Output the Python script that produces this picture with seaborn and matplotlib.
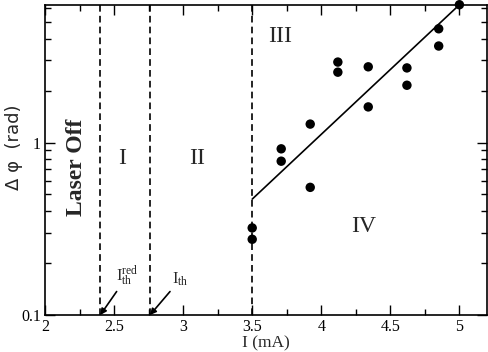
import numpy as np
import pandas as pd
import matplotlib
matplotlib.use("Agg")
import matplotlib.pyplot as plt
import seaborn as sns
from matplotlib.ticker import FixedLocator, LogLocator, NullFormatter, MultipleLocator

# Data
current_mA = [3.50, 3.50, 3.71, 3.71, 3.92, 3.92, 4.12, 4.12, 4.34, 4.34, 4.62, 4.62, 4.85, 4.85, 5.00]
dphi_rad = [0.32, 0.275, 0.92, 0.78, 1.28, 0.55, 2.93, 2.56, 2.75, 1.61, 2.71, 2.15, 4.57, 3.63, 6.3]
fit_x = [3.5, 5.0]
fit_y = [0.47, 6.3]
threshold_lines = [2.4, 2.76, 3.5]
region_labels = ["I", "II", "III", "IV"]
region_x = [2.56, 3.10, 3.70, 4.31]
region_y = [0.81, 0.81, 4.12, 0.326]
xticks = [2, 2.5, 3, 3.5, 4, 4.5, 5]
xticklabels = ["2", "2.5", "3", "3.5", "4", "4.5", "5"]

sns.set_theme(style="ticks")
plt.rcParams["font.family"] = ["Liberation Serif", "DejaVu Serif"]
plt.rcParams["mathtext.fontset"] = "custom"
plt.rcParams["mathtext.rm"] = "Liberation Serif"

fig = plt.figure(figsize=(4.89, 3.52), dpi=100)
ax = fig.add_axes([0.092, 0.105, 0.904, 0.881])

df = pd.DataFrame({"I": current_mA, "dphi": dphi_rad})
fit = pd.DataFrame({"I": fit_x, "dphi": fit_y})

sns.lineplot(data=fit, x="I", y="dphi", ax=ax, color="black", lw=1.2)
sns.scatterplot(data=df, x="I", y="dphi", ax=ax, color="black", s=46,
                edgecolor="none", zorder=5, clip_on=False)

for xv in threshold_lines:
    ax.axvline(xv, color="black", ls=(0, (4, 2.5)), lw=1.2)

ax.set_yscale("log")
ax.set_xlim(2, 5.2)
ax.set_ylim(0.1, 2 * np.pi)

ax.xaxis.set_major_locator(FixedLocator(xticks))
ax.set_xticklabels(xticklabels)
ax.xaxis.set_minor_locator(MultipleLocator(0.25))
ax.yaxis.set_major_locator(FixedLocator([0.1, 1]))
ax.set_yticklabels(["0.1", "1"])
ax.yaxis.set_minor_locator(LogLocator(base=10, subs=np.arange(2, 10)))
ax.yaxis.set_minor_formatter(NullFormatter())

ax.tick_params(which="both", direction="in", top=True, right=True, colors="black",
               labelsize=11.5, pad=3)
ax.tick_params(which="major", length=7, width=1)
ax.tick_params(which="minor", length=4, width=1)
for sp in ax.spines.values():
    sp.set_linewidth(1.2)
    sp.set_color("black")

ax.set_xlabel("I (mA)", fontsize=12.5)
ax.xaxis.set_label_coords(0.5, -0.065)
ax.set_ylabel("Δ φ  (rad)", fontsize=13, family=["DejaVu Sans"])
ax.yaxis.set_label_coords(-0.05, 0.54)

for lab, xv, yv in zip(region_labels, region_x, region_y):
    ax.text(xv, yv, lab, fontsize=17, ha="center", va="center")

ax.text(2.23, 0.72, "Laser Off", fontsize=17, fontweight="bold", rotation=90,
        ha="center", va="center")

ax.annotate(r"$\mathrm{I_{th}^{red}}$", xy=(2.4, 0.1), xytext=(2.515, 0.143),
            fontsize=12, ha="left", va="bottom",
            arrowprops=dict(arrowstyle="-|>", color="black", lw=1.2,
                            mutation_scale=9, shrinkA=0, shrinkB=0))
ax.annotate(r"$\mathrm{I_{th}}$", xy=(2.76, 0.1), xytext=(2.919, 0.143),
            fontsize=12, ha="left", va="bottom",
            arrowprops=dict(arrowstyle="-|>", color="black", lw=1.2,
                            mutation_scale=9, shrinkA=0, shrinkB=0))

fig.savefig("out.png", dpi=100)
